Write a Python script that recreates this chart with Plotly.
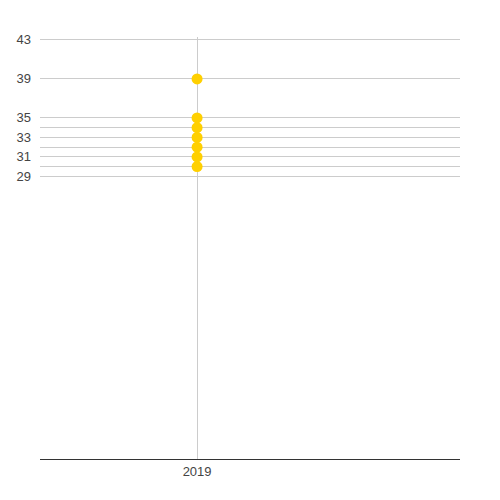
import plotly.graph_objects as go

years = [2019, 2019, 2019, 2019, 2019, 2019, 2019]
values = [39, 35, 34, 33, 32, 31, 30]
y_tickvals = [29, 30, 31, 32, 33, 34, 35, 39, 43]
y_ticktext = ["29", "", "31", "", "33", "", "35", "39", "43"]
x_tickvals = [2019]
x_ticktext = ["2019"]

fig = go.Figure(go.Scatter(
    x=years, y=values, mode="markers",
    marker=dict(color="#FFD000", size=11, line=dict(width=0)),
    cliponaxis=False,
))
fig.update_layout(
    width=500, height=500,
    margin=dict(l=32, r=48, t=29, b=49, pad=0),
    plot_bgcolor="white", paper_bgcolor="white",
    showlegend=False,
    font=dict(family="Arial, Liberation Sans", size=13, color="#444"),
)
fig.update_xaxes(
    range=[2019 - 0.374, 2019 + 0.626],
    tickvals=x_tickvals, ticktext=x_ticktext,
    showgrid=True, gridcolor="#cccccc", gridwidth=1,
    showline=True, linecolor="#333", linewidth=1,
    zeroline=False, ticks="", ticklen=0, automargin=False,
)
fig.update_yaxes(
    range=[0, 43.3],
    tickvals=y_tickvals, ticktext=y_ticktext,
    showgrid=True, gridcolor="#cccccc", gridwidth=1,
    showline=False, zeroline=False, ticks="", automargin=False,
    ticklabelstandoff=8,
)
fig.write_html("out.html")
